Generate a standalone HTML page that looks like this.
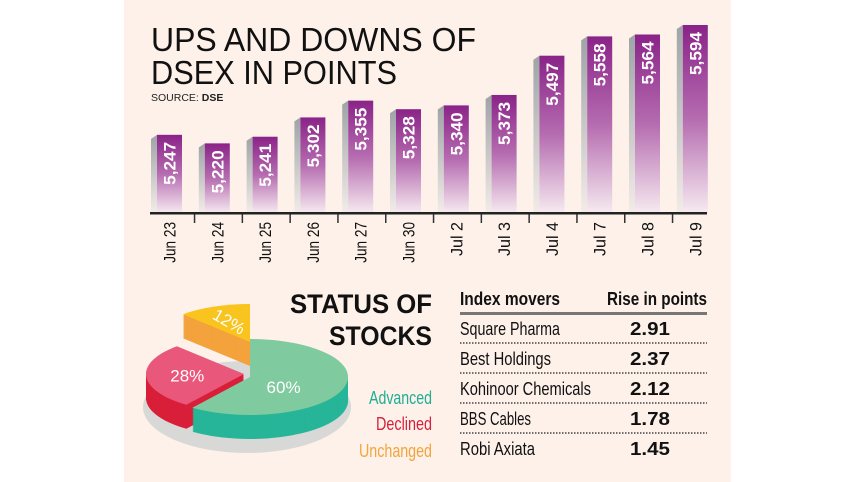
<!DOCTYPE html>
<html><head><meta charset="utf-8"><style>
html,body{margin:0;padding:0;background:#fff;}
svg{display:block;font-family:"Liberation Sans",sans-serif;}
</style></head><body>
<svg id="chart" width="857" height="482" viewBox="0 0 857 482" xmlns="http://www.w3.org/2000/svg">
<defs>
<linearGradient id="barGrad" x1="0" y1="0" x2="0" y2="1">
<stop offset="0" stop-color="#8a2388"/><stop offset="0.5" stop-color="#b56cb0"/><stop offset="1" stop-color="#f6eaf0"/>
</linearGradient>
<linearGradient id="sideGrad" x1="0" y1="0" x2="0" y2="1">
<stop offset="0" stop-color="#9ea3a6"/><stop offset="1" stop-color="#f2ece8"/>
</linearGradient>
</defs>
<rect x="124" y="0" width="607" height="482" fill="#fdf1ea"/>
<text x="151" y="51" font-size="33" textLength="325" lengthAdjust="spacingAndGlyphs" fill="#111">UPS AND DOWNS OF</text>
<text x="151" y="84" font-size="33" textLength="246" lengthAdjust="spacingAndGlyphs" fill="#111">DSEX IN POINTS</text>
<text x="151" y="101" font-size="10.5" fill="#222">SOURCE: <tspan font-weight="bold">DSE</tspan></text>
<g id="bars"></g>
<g id="pie"></g>
<text x="432" y="313" text-anchor="end" font-size="27" font-weight="bold" textLength="142" lengthAdjust="spacingAndGlyphs" fill="#111">STATUS OF</text>
<text x="432" y="345" text-anchor="end" font-size="27" font-weight="bold" textLength="103" lengthAdjust="spacingAndGlyphs" fill="#111">STOCKS</text>
<text x="432" y="404" text-anchor="end" font-size="18" textLength="63" lengthAdjust="spacingAndGlyphs" fill="#1fae92">Advanced</text>
<text x="432" y="430" text-anchor="end" font-size="18" textLength="56" lengthAdjust="spacingAndGlyphs" fill="#d7213c">Declined</text>
<text x="432" y="457" text-anchor="end" font-size="18" textLength="73" lengthAdjust="spacingAndGlyphs" fill="#f3a53a">Unchanged</text>
<g id="table">
<text x="460" y="305" font-size="18" font-weight="bold" textLength="100" lengthAdjust="spacingAndGlyphs" fill="#111">Index movers</text>
<text x="707" y="305" text-anchor="end" font-size="18" font-weight="bold" textLength="100" lengthAdjust="spacingAndGlyphs" fill="#111">Rise in points</text>
<rect x="460" y="312" width="247" height="3" fill="#777"/>
</g>
</svg>
<script>
var categories=["Jun 23","Jun 24","Jun 25","Jun 26","Jun 27","Jun 30","Jul 2","Jul 3","Jul 4","Jul 7","Jul 8","Jul 9"];
var values=[5247,5220,5241,5302,5355,5328,5340,5373,5497,5558,5564,5594];
var valueLabels=["5,247","5,220","5,241","5,302","5,355","5,328","5,340","5,373","5,497","5,558","5,564","5,594"];
var pieLabels=["Advanced","Declined","Unchanged"];
var pieValues=[60,28,12];
var movers=["Square Pharma","Best Holdings","Kohinoor Chemicals","BBS Cables","Robi Axiata"];
var rises=["2.91","2.37","2.12","1.78","1.45"];

var NS="http://www.w3.org/2000/svg";
function mk(tag,attrs,parent){var e=document.createElementNS(NS,tag);for(var k in attrs){e.setAttribute(k,String(attrs[k]));}parent.appendChild(e);return e;}
var baseY=213, yMin=5000, pxPer=0.3165;
function yScale(v){return baseY-(v-yMin)*pxPer;}
var x0=157, step=47.8, bw=25;
function xScale(i){return x0+i*step;}
var g=document.getElementById('bars');
for(var i=0;i<values.length;i++){
  var x=xScale(i), y=yScale(values[i]);
  var side=mk('polygon',{points:(x-6)+','+(y+4)+' '+x+','+y+' '+x+','+baseY+' '+(x-6)+','+baseY,fill:'url(#sideGrad)'},g);
  
  
  var r=mk('rect',{x:x,y:y,width:bw,height:baseY-y,fill:'url(#barGrad)'},g);
  
  
  var t=mk('text',{x:0,y:0,transform:'translate('+(x+bw/2+6)+','+(y+50)+') rotate(-90)','font-size':17,'font-weight':'bold',fill:'#fff',textLength:43,lengthAdjust:'spacingAndGlyphs'},g);
  t.textContent=valueLabels[i];
  
  
  var c=mk('text',{x:0,y:0,transform:'translate('+(x+bw/2+6)+','+(baseY+9)+') rotate(-90)','font-size':17,'text-anchor':'end',fill:'#111',textLength:categories[i].length*6.8,lengthAdjust:'spacingAndGlyphs'},g);
  c.textContent=categories[i];
  
  
  if(i>0){var tk=mk('rect',{x:x-11,y:baseY,width:1.5,height:10,fill:'#333'},g);
    
    }
}
var ax=mk('rect',{x:150,y:baseY-1,width:557,height:2.5,fill:'#222'},g);



var pg=document.getElementById('pie');
var cx=250,cy=377,rx=98,ry=38,depth=24;
var topCols=['#7fca9f','#e9587a','#f9c41e'], sideCols=['#27b598','#d81f38','#f3a23c'];
var offs=[[0,0],[-6,-3],[0,-35]];
var base=mk('ellipse',{cx:cx-3,cy:cy+depth+6,rx:rx+6,ry:ry+8,fill:'#d8d8d6'},pg);


function pt(a,ox,oy,dy){return [cx+ox+rx*Math.sin(a),cy+oy+dy-ry*Math.cos(a)];}
function slicePath(a0,a1,ox,oy,dy){
  var p0=pt(a0,ox,oy,dy),p1=pt(a1,ox,oy,dy);var large=(a1-a0)>Math.PI?1:0;
  return 'M'+(cx+ox)+','+(cy+oy+dy)+' L'+p0[0]+','+p0[1]+' A'+rx+','+ry+' 0 '+large+' 1 '+p1[0]+','+p1[1]+' Z';
}
var total=0;for(var i=0;i<pieValues.length;i++){total+=pieValues[i];}
var angles=[];var acc=0;
for(var i=0;i<pieValues.length;i++){var a0=acc/total*2*Math.PI;acc+=pieValues[i];angles.push([a0,acc/total*2*Math.PI]);}
var order=[2,1,0];
for(var k=0;k<order.length;k++){
  var si=order[k],a=angles[si],o=offs[si];
  for(var d=depth;d>0;d-=1){var s=mk('path',{d:slicePath(a[0],a[1],o[0],o[1],d),fill:sideCols[si]},pg);
    
    }
}
for(var k=0;k<order.length;k++){
  var si=order[k],a=angles[si],o=offs[si];
  var s=mk('path',{d:slicePath(a[0],a[1],o[0],o[1],0),fill:topCols[si]},pg);
  
  
  var mid=(a[0]+a[1])/2;
  var f=si==0?0.36:0.58;
  var lx=cx+o[0]+rx*f*Math.sin(mid), ly=cy+o[1]-ry*f*Math.cos(mid)+(si==0?6:0);
  var t=mk('text',{x:lx,y:ly+6,'text-anchor':'middle','font-size':17,fill:'#fff'},pg);
  if(si==2){t.setAttribute('transform','rotate(30 '+lx+' '+ly+')');}
  t.textContent=pieValues[si]+'%';
  
  
}

var tg=document.getElementById('table');
var moverWidths=[100,91,131,71,75];
for(var i=0;i<movers.length;i++){
  var y=328+i*30;
  var n=mk('text',{x:460,y:y+7,'font-size':18,fill:'#111',textLength:moverWidths[i],lengthAdjust:'spacingAndGlyphs'},tg);
  n.textContent=movers[i];
  
  
  var v=mk('text',{x:650,y:y+7,'text-anchor':'middle','font-size':18,'font-weight':'bold',fill:'#111',textLength:40,lengthAdjust:'spacingAndGlyphs'},tg);
  v.textContent=rises[i];
  
  
  if(i<movers.length-1){var l=mk('line',{x1:460,x2:707,y1:y+15,y2:y+15,stroke:'#444','stroke-width':1.5,'stroke-dasharray':'1.5 1.5'},tg);
    
    }
}
</script>
</body></html>
